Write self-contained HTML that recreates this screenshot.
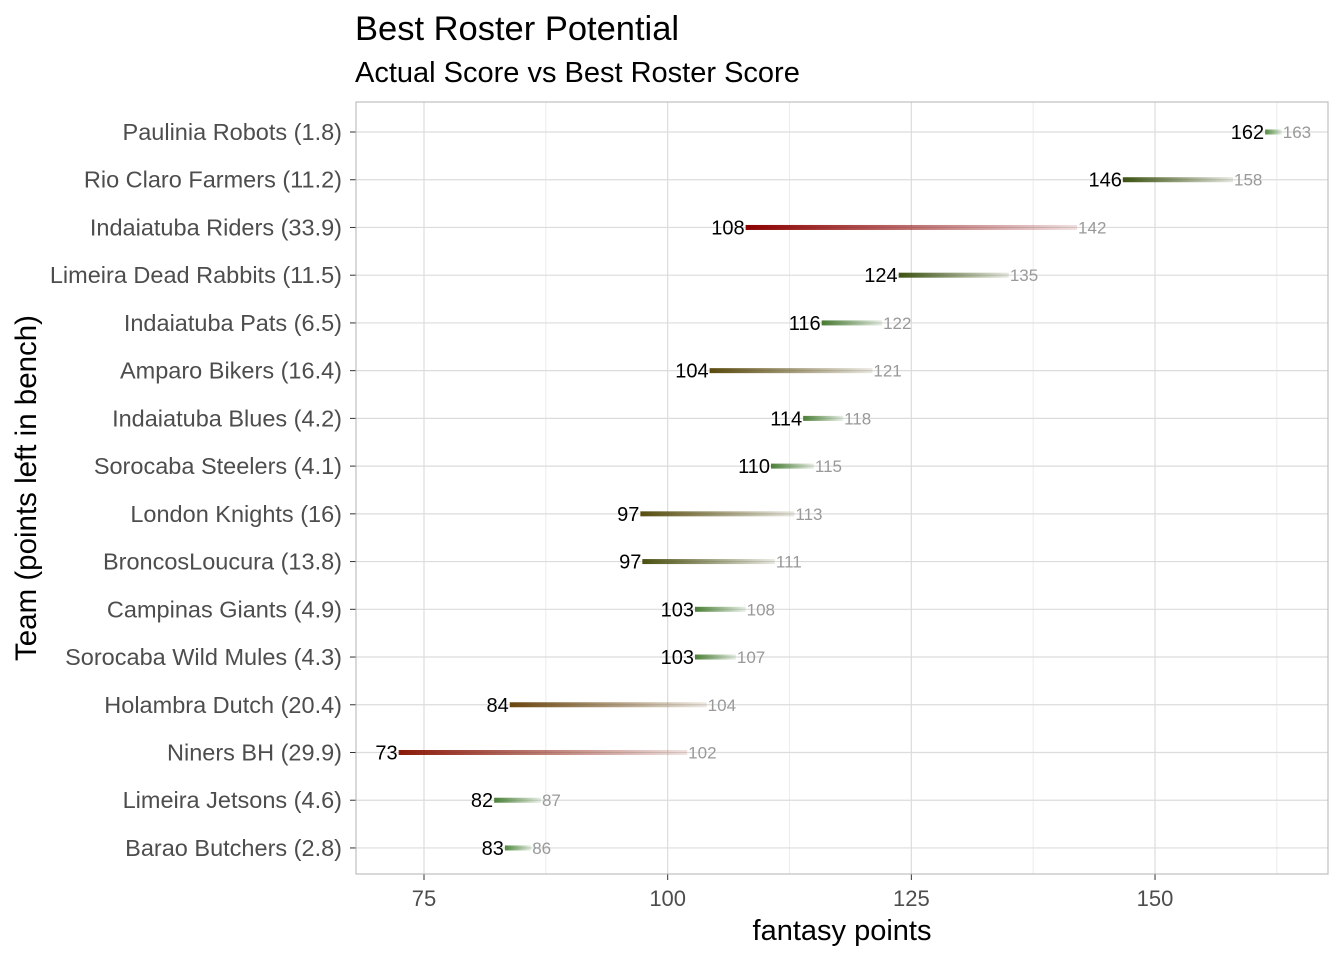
<!DOCTYPE html>
<html><head><meta charset="utf-8"><style>
body{margin:0;background:#fff;}
svg text{font-family:"Liberation Sans",Arial,sans-serif;}
</style></head><body>
<svg id="s" width="1344" height="960" xmlns="http://www.w3.org/2000/svg">
<rect width="1344" height="960" fill="#fff"/>
<text x="355" y="40" font-size="34.5" fill="#000">Best Roster Potential</text>
<text x="355" y="82" font-size="29" fill="#000">Actual Score vs Best Roster Score</text>
<g id="g"></g>
<rect x="356" y="102" width="972" height="772" fill="none" stroke="#b3b3b3" stroke-width="1"/>
<text x="842" y="940" font-size="29" text-anchor="middle" fill="#000">fantasy points</text>
<text transform="translate(36,488) rotate(-90)" font-size="29.5" text-anchor="middle" fill="#000">Team (points left in bench)</text>
</svg>
<script>
var X=function(v){return 424+(v-75)*9.747;};
var d=[["Paulinia Robots (1.8)",161.3,163,"162","163","#4f8a3e"],
["Rio Claro Farmers (11.2)",146.7,158,"146","158","#3c5212"],
["Indaiatuba Riders (33.9)",108,142,"108","142","#8b0000"],
["Limeira Dead Rabbits (11.5)",123.7,135,"124","135","#3d5212"],
["Indaiatuba Pats (6.5)",115.8,122,"116","122","#477a32"],
["Amparo Bikers (16.4)",104.3,121,"104","121","#5a4a0e"],
["Indaiatuba Blues (4.2)",113.9,118,"114","118","#4a7f36"],
["Sorocaba Steelers (4.1)",110.6,115,"110","115","#4a7f36"],
["London Knights (16)",97.2,113,"97","113","#574d0e"],
["BroncosLoucura (13.8)",97.4,111,"97","111","#4b5010"],
["Campinas Giants (4.9)",102.8,108,"103","108","#4a7f36"],
["Sorocaba Wild Mules (4.3)",102.8,107,"103","107","#4a7f36"],
["Holambra Dutch (20.4)",83.8,104,"84","104","#6b4610"],
["Niners BH (29.9)",72.4,102,"73","102","#8a1a0a"],
["Limeira Jetsons (4.6)",82.2,87,"82","87","#4a7f36"],
["Barao Butchers (2.8)",83.3,86,"83","86","#4f8a3e"]];
var h='';
[87.5,112.5,137.5,162.5].forEach(function(v){h+='<line x1="'+X(v)+'" x2="'+X(v)+'" y1="102" y2="874" stroke="#ececec" stroke-width="1"/>';});
[75,100,125,150].forEach(function(v){var x=X(v);h+='<line x1="'+x+'" x2="'+x+'" y1="102" y2="874" stroke="#dcdcdc" stroke-width="1.2"/><line x1="'+x+'" x2="'+x+'" y1="874" y2="880" stroke="#333" stroke-width="1"/><text x="'+x+'" y="906" font-size="22" fill="#4d4d4d" text-anchor="middle">'+v+'</text>';});
d.forEach(function(r,i){var y=132+i*47.73;
h+='<line x1="356" x2="1328" y1="'+y+'" y2="'+y+'" stroke="#dcdcdc" stroke-width="1.2"/><line x1="350" x2="356" y1="'+y+'" y2="'+y+'" stroke="#333"/>';
h+='<text x="342" y="'+(y+8)+'" font-size="23.5" fill="#4d4d4d" text-anchor="end">'+r[0]+'</text>';
h+='<defs><linearGradient id="lg'+i+'"><stop offset="0" stop-color="'+r[5]+'" stop-opacity="1"/><stop offset="1" stop-color="'+r[5]+'" stop-opacity="0.12"/></linearGradient></defs>';
var x1=X(r[1]),x2=X(r[2]);
h+='<rect x="'+x1+'" y="'+(y-2.5)+'" width="'+(x2-x1)+'" height="5" fill="url(#lg'+i+')"/>';
h+='<text x="'+(x1-1)+'" y="'+(y+7)+'" font-size="20" fill="#000" text-anchor="end">'+r[3]+'</text>';
h+='<text x="'+(x2+1)+'" y="'+(y+6)+'" font-size="17" fill="#999" text-anchor="start">'+r[4]+'</text>';});
document.getElementById('g').innerHTML=h;
</script>
</body></html>
